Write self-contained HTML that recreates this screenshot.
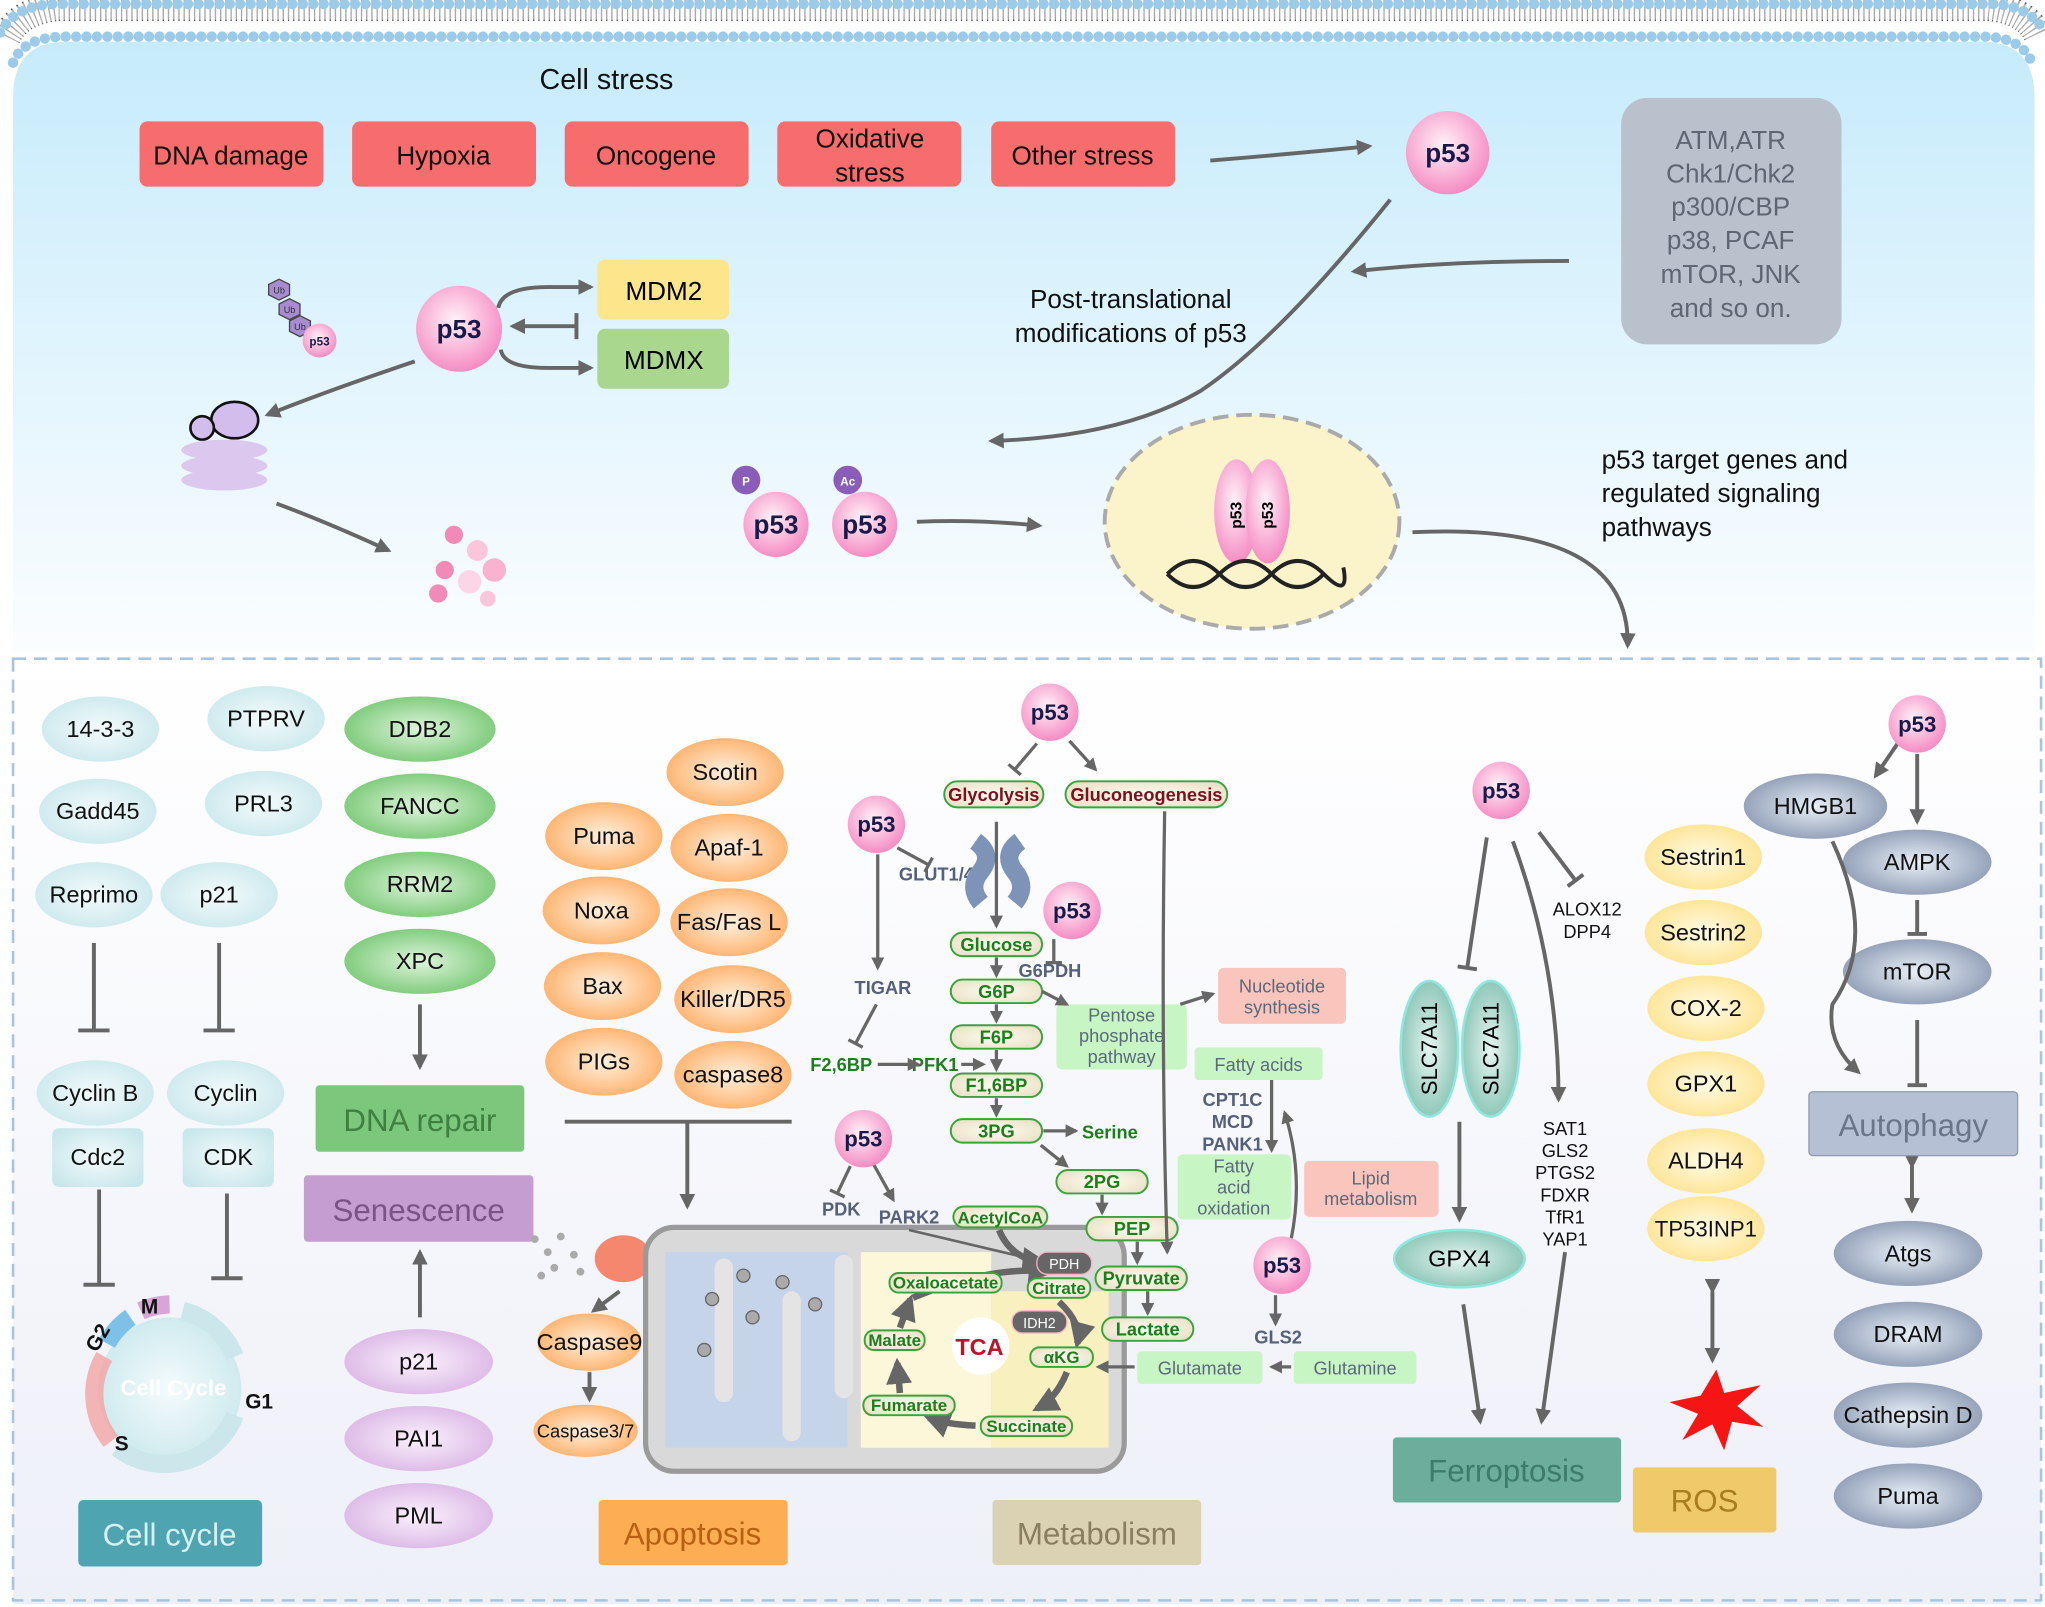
<!DOCTYPE html>
<html><head><meta charset="utf-8"><style>
html,body{margin:0;padding:0;background:#fff;}
svg{display:block;font-family:"Liberation Sans",sans-serif;}
</style></head><body>
<svg width="2045" height="1607" viewBox="0 0 1568 1232" xmlns="http://www.w3.org/2000/svg">
<defs>
<linearGradient id="cellbg" x1="0" y1="0" x2="0" y2="1"><stop offset="0" stop-color="#c6ebfb"/><stop offset="1" stop-color="#fbfdff"/></linearGradient>
<linearGradient id="lowbg" x1="0" y1="0" x2="0" y2="1"><stop offset="0" stop-color="#ffffff"/><stop offset="1" stop-color="#eef0f8"/></linearGradient>
<radialGradient id="pk" cx="0.45" cy="0.4" r="0.6"><stop offset="0" stop-color="#fff2f8"/><stop offset="1" stop-color="#f58cc4"/></radialGradient>
<radialGradient id="cy" cx="0.5" cy="0.5" r="0.6"><stop offset="0" stop-color="#f4fbfc"/><stop offset="1" stop-color="#c8e7ec"/></radialGradient>
<radialGradient id="gr" cx="0.5" cy="0.5" r="0.6"><stop offset="0" stop-color="#dff4dc"/><stop offset="1" stop-color="#6fc56c"/></radialGradient>
<radialGradient id="or" cx="0.5" cy="0.5" r="0.6"><stop offset="0" stop-color="#fff1e0"/><stop offset="1" stop-color="#fdaa5e"/></radialGradient>
<radialGradient id="pu" cx="0.5" cy="0.5" r="0.6"><stop offset="0" stop-color="#fbf1fd"/><stop offset="1" stop-color="#d8b2e3"/></radialGradient>
<radialGradient id="ye" cx="0.5" cy="0.5" r="0.6"><stop offset="0" stop-color="#fffbe6"/><stop offset="1" stop-color="#fde18a"/></radialGradient>
<radialGradient id="sl" cx="0.5" cy="0.5" r="0.6"><stop offset="0" stop-color="#e8f0f8"/><stop offset="1" stop-color="#8593ad"/></radialGradient>
<radialGradient id="tl" cx="0.5" cy="0.5" r="0.6"><stop offset="0" stop-color="#e6f5f1"/><stop offset="1" stop-color="#7fbfae"/></radialGradient>
<radialGradient id="pill" cx="0.5" cy="0.5" r="0.7"><stop offset="0" stop-color="#fffdf2"/><stop offset="1" stop-color="#e6dcc0"/></radialGradient>
<marker id="a" viewBox="0 0 10 10" refX="8" refY="5" markerWidth="4" markerHeight="4" orient="auto"><path d="M0,0L10,5L0,10z" fill="#666"/></marker>
<marker id="t" viewBox="0 0 10 10" refX="5" refY="5" markerWidth="5" markerHeight="5" orient="auto"><path d="M5,0V10" stroke="#666" stroke-width="2"/></marker>
</defs>

<!-- cell background -->
<path d="M10,75 Q10,32 50,32 H1520 Q1560,32 1560,75 V500 H10Z" fill="url(#cellbg)"/>
<rect x="10" y="500" width="1555" height="730" fill="url(#lowbg)"/>
<!-- membrane -->
<path d="M5,28 Q15,8 45,5 H1525 Q1555,8 1563,28" stroke="#555" stroke-width="22" stroke-dasharray="1 3" fill="none"/>
<path d="M5,28 Q15,8 45,5 H1525 Q1555,8 1563,28" stroke="#fff" stroke-width="20" stroke-dasharray="2 2" fill="none" opacity="0.5"/>
<path d="M0,25 Q12,3 45,3 H1525 Q1556,3 1568,25" stroke="#9ccbea" stroke-width="8" stroke-dasharray="0 8" stroke-linecap="round" fill="none"/>
<path d="M10,48 Q18,28 50,28 H1520 Q1550,28 1558,48" stroke="#9ccbea" stroke-width="8" stroke-dasharray="0 8" stroke-linecap="round" fill="none"/>

<rect x="10" y="505" width="1555" height="722" fill="none" stroke="#a9c4e0" stroke-width="2" stroke-dasharray="10 6"/>

<g font-size="20" text-anchor="middle" fill="#111">
<text x="465" y="68" font-size="22">Cell stress</text>
<g fill="#f76c6c">
<rect x="107" y="93" width="141" height="50" rx="6"/><rect x="270" y="93" width="141" height="50" rx="6"/><rect x="433" y="93" width="141" height="50" rx="6"/><rect x="596" y="93" width="141" height="50" rx="6"/><rect x="760" y="93" width="141" height="50" rx="6"/>
</g>
<text x="177" y="126">DNA damage</text><text x="340" y="126">Hypoxia</text><text x="503" y="126">Oncogene</text><text x="667" y="113">Oxidative</text><text x="667" y="139">stress</text><text x="830" y="126">Other stress</text>
</g>
<path d="M928,123 Q990,118 1050,112" stroke="#666" stroke-width="3" fill="none" marker-end="url(#a)"/>
<rect x="1243" y="75" width="169" height="189" rx="20" fill="#b9c1cd"/>
<g font-size="20" text-anchor="middle" fill="#5e6673">
<text x="1327" y="114">ATM,ATR</text><text x="1327" y="140">Chk1/Chk2</text><text x="1327" y="165">p300/CBP</text><text x="1327" y="191">p38, PCAF</text><text x="1327" y="217">mTOR, JNK</text><text x="1327" y="243">and so on.</text>
</g>
<path d="M1203,200 Q1110,200 1038,208" stroke="#666" stroke-width="3" fill="none" marker-end="url(#a)"/>
<path d="M1066,153 Q980,260 920,300 Q860,335 760,338" stroke="#666" stroke-width="3" fill="none" marker-end="url(#a)"/>
<text x="867" y="236" font-size="20" text-anchor="middle" fill="#111">Post-translational</text>
<text x="867" y="262" font-size="20" text-anchor="middle" fill="#111">modifications of p53</text>

<!-- MDM2 region -->
<rect x="458" y="199" width="101" height="46" rx="6" fill="#fde58c"/>
<rect x="458" y="252" width="101" height="46" rx="6" fill="#a9d78e"/>
<text x="509" y="230" font-size="20" text-anchor="middle">MDM2</text>
<text x="509" y="283" font-size="20" text-anchor="middle">MDMX</text>
<path d="M382,236 Q385,220 420,220 H453" stroke="#666" stroke-width="3" fill="none" marker-end="url(#a)"/>
<path d="M384,268 Q386,282 420,282 H453" stroke="#666" stroke-width="3" fill="none" marker-end="url(#a)"/>
<path d="M442,250 H393" stroke="#666" stroke-width="3" marker-end="url(#a)"/>
<path d="M442,240 V260" stroke="#666" stroke-width="3"/>
<path d="M318,277 Q250,300 205,318" stroke="#666" stroke-width="3" fill="none" marker-end="url(#a)"/>
<g fill="#a88bd0" stroke="#444" stroke-width="1"><polygon points="206,218 214,214 222,218 222,226 214,230 206,226"/><polygon points="214,233 222,229 230,233 230,241 222,245 214,241"/><polygon points="222,246 230,242 238,246 238,254 230,258 222,254"/></g>
<g font-size="7" fill="#333" text-anchor="middle"><text x="214" y="225">Ub</text><text x="222" y="240">Ub</text><text x="230" y="253">Ub</text></g>
<circle cx="245" cy="261" r="13" fill="url(#pk)"/><text x="245" y="265" font-size="9" font-weight="bold" text-anchor="middle" fill="#1a1a4a">p53</text>
<!-- proteasome -->
<g fill="#dcc8ef"><ellipse cx="172" cy="345" rx="33" ry="8"/><ellipse cx="172" cy="357" rx="33" ry="8"/><ellipse cx="172" cy="368" rx="33" ry="8"/></g>
<ellipse cx="180" cy="322" rx="18" ry="14" fill="#d3bdec" stroke="#111" stroke-width="2"/>
<circle cx="155" cy="328" r="9" fill="#d3bdec" stroke="#111" stroke-width="2"/>
<path d="M212,386 Q250,400 298,422" stroke="#666" stroke-width="3" fill="none" marker-end="url(#a)"/>
<g fill="#f28ab8"><circle cx="348" cy="410" r="7"/><circle cx="366" cy="422" r="8" fill="#fbc5dc"/><circle cx="341" cy="437" r="7"/><circle cx="379" cy="437" r="9" fill="#f9b2d0"/><circle cx="360" cy="446" r="9" fill="#fcd6e6"/><circle cx="336" cy="455" r="7"/><circle cx="374" cy="459" r="6" fill="#fbc5dc"/></g>

<!-- p53 top circles -->
<g font-weight="bold" text-anchor="middle" fill="#1a1a4a">
<circle cx="1110" cy="117" r="32" fill="url(#pk)"/><text x="1110" y="124" font-size="20">p53</text>
<circle cx="352" cy="252" r="33" fill="url(#pk)"/><text x="352" y="259" font-size="20">p53</text>
<circle cx="595" cy="402" r="25" fill="url(#pk)"/><text x="595" y="409" font-size="20">p53</text>
<circle cx="663" cy="402" r="25" fill="url(#pk)"/><text x="663" y="409" font-size="20">p53</text>
<circle cx="572" cy="368" r="11" fill="#8a5db8"/><text x="572" y="372" font-size="9" fill="#fff">P</text>
<circle cx="650" cy="368" r="11" fill="#8a5db8"/><text x="650" y="372" font-size="9" fill="#fff">Ac</text>
</g>
<path d="M703,400 Q750,398 797,403" stroke="#666" stroke-width="3" fill="none" marker-end="url(#a)"/>
<ellipse cx="960" cy="400" rx="113" ry="82" fill="#fbf4cb" stroke="#aaa" stroke-width="3" stroke-dasharray="12 6"/>
<ellipse cx="948" cy="392" rx="17" ry="40" fill="url(#pk)"/><ellipse cx="972" cy="392" rx="17" ry="40" fill="url(#pk)"/>
<text x="952" y="395" font-size="12" font-weight="bold" transform="rotate(-90 952 395)" text-anchor="middle">p53</text>
<text x="976" y="395" font-size="12" font-weight="bold" transform="rotate(-90 976 395)" text-anchor="middle">p53</text>
<path d="M895,440 Q915,420 935,440 T975,440 T1015,440 T1030,435 M895,440 Q915,460 935,440 T975,440 T1015,440" stroke="#222" stroke-width="3" fill="none"/>
<path d="M1083,408 Q1250,400 1248,495" stroke="#666" stroke-width="3" fill="none" marker-end="url(#a)"/>
<g font-size="20" fill="#111"><text x="1228" y="359">p53 target genes and</text><text x="1228" y="385">regulated signaling</text><text x="1228" y="411">pathways</text></g>

<!-- Cell cycle column -->
<g fill="url(#cy)"><ellipse cx="77" cy="559" rx="45" ry="25"/><ellipse cx="75" cy="622" rx="45" ry="25"/><ellipse cx="72" cy="686" rx="45" ry="25"/><ellipse cx="204" cy="551" rx="45" ry="25"/><ellipse cx="202" cy="616" rx="45" ry="25"/><ellipse cx="168" cy="686" rx="45" ry="25"/><ellipse cx="73" cy="838" rx="45" ry="25"/><ellipse cx="173" cy="838" rx="45" ry="25"/><rect x="40" y="865" width="70" height="45" rx="5"/><rect x="140" y="865" width="70" height="45" rx="5"/></g>
<g font-size="18" text-anchor="middle" fill="#111">
<text x="77" y="565">14-3-3</text><text x="75" y="628">Gadd45</text><text x="72" y="692">Reprimo</text><text x="204" y="557">PTPRV</text><text x="202" y="622">PRL3</text><text x="168" y="692">p21</text><text x="73" y="844">Cyclin B</text><text x="173" y="844">Cyclin</text><text x="75" y="893">Cdc2</text><text x="175" y="893">CDK</text>
</g>
<g stroke="#666" stroke-width="3"><path d="M72,723V790M60,790H84M168,723V790M156,790H180M76,912V985M64,985H88M174,915V980M162,980H186"/></g>
<circle cx="130" cy="1065" r="55" fill="url(#cy)"/>
<path d="M180,1085 A58,58 0 0 1 90,1110" stroke="#cbe7ec" stroke-width="14" fill="none"/>
<path d="M85,1105 A58,58 0 0 1 80,1040" stroke="#f3a4a4" stroke-width="14" fill="none" opacity="0.8"/>
<path d="M82,1030 A58,58 0 0 1 100,1010" stroke="#7dc0e8" stroke-width="14" fill="none"/>
<path d="M108,1005 A58,58 0 0 1 130,1000" stroke="#d9a5d8" stroke-width="14" fill="none"/>
<path d="M140,1005 A58,58 0 0 1 180,1040" stroke="#cbe7ec" stroke-width="14" fill="none"/>
<text x="133" y="1070" font-size="17" text-anchor="middle" fill="#fff" font-weight="bold">Cell Cycle</text>
<g font-size="16" font-weight="bold" fill="#111"><text x="108" y="1007">M</text><text x="188" y="1080">G1</text><text x="88" y="1112">S</text><text x="70" y="1040" transform="rotate(-60 70 1035)">G2</text></g>
<rect x="60" y="1150" width="141" height="51" rx="4" fill="#4ea4b0"/>
<text x="130" y="1185" font-size="24" text-anchor="middle" fill="#d7f0f3">Cell cycle</text>

<!-- DNA repair / Senescence -->
<g fill="url(#gr)"><ellipse cx="322" cy="559" rx="58" ry="25"/><ellipse cx="322" cy="618" rx="58" ry="25"/><ellipse cx="322" cy="678" rx="58" ry="25"/><ellipse cx="322" cy="737" rx="58" ry="25"/></g>
<g fill="url(#pu)"><ellipse cx="321" cy="1044" rx="57" ry="25"/><ellipse cx="321" cy="1103" rx="57" ry="25"/><ellipse cx="321" cy="1162" rx="57" ry="25"/></g>
<g font-size="18" text-anchor="middle" fill="#111"><text x="322" y="565">DDB2</text><text x="322" y="624">FANCC</text><text x="322" y="684">RRM2</text><text x="322" y="743">XPC</text><text x="321" y="1050">p21</text><text x="321" y="1109">PAI1</text><text x="321" y="1168">PML</text></g>
<path d="M322,770V818" stroke="#666" stroke-width="3" marker-end="url(#a)"/>
<path d="M322,1010V960" stroke="#666" stroke-width="3" marker-end="url(#a)"/>
<rect x="242" y="832" width="160" height="51" rx="3" fill="#7bc77b"/><text x="322" y="867" font-size="24" text-anchor="middle" fill="#3f7f3f">DNA repair</text>
<rect x="233" y="901" width="176" height="51" rx="3" fill="#c59dd0"/><text x="321" y="936" font-size="24" text-anchor="middle" fill="#7a5485">Senescence</text>

<!-- Apoptosis -->
<g fill="url(#or)"><ellipse cx="556" cy="592" rx="45" ry="26"/><ellipse cx="463" cy="641" rx="45" ry="26"/><ellipse cx="559" cy="650" rx="45" ry="26"/><ellipse cx="461" cy="698" rx="45" ry="26"/><ellipse cx="559" cy="707" rx="45" ry="26"/><ellipse cx="462" cy="756" rx="45" ry="26"/><ellipse cx="562" cy="766" rx="45" ry="26"/><ellipse cx="463" cy="814" rx="45" ry="26"/><ellipse cx="562" cy="824" rx="45" ry="26"/><ellipse cx="452" cy="1029" rx="40" ry="22"/><ellipse cx="449" cy="1097" rx="40" ry="20"/></g>
<g font-size="18" text-anchor="middle" fill="#111"><text x="556" y="598">Scotin</text><text x="463" y="647">Puma</text><text x="559" y="656">Apaf-1</text><text x="461" y="704">Noxa</text><text x="559" y="713">Fas/Fas L</text><text x="462" y="762">Bax</text><text x="562" y="772">Killer/DR5</text><text x="463" y="820">PIGs</text><text x="562" y="830">caspase8</text><text x="452" y="1035">Caspase9</text><text x="449" y="1102" font-size="14">Caspase3/7</text></g>
<path d="M433,860H607M527,860V925" stroke="#666" stroke-width="3" fill="none" marker-end="url(#a)"/>
<path d="M475,990L455,1005" stroke="#666" stroke-width="3" marker-end="url(#a)"/>
<path d="M452,1052V1073" stroke="#666" stroke-width="3" marker-end="url(#a)"/>
<g fill="#aaa"><circle cx="410" cy="950" r="3"/><circle cx="420" cy="960" r="3"/><circle cx="430" cy="948" r="3"/><circle cx="425" cy="972" r="3"/><circle cx="440" cy="962" r="3"/><circle cx="415" cy="978" r="3"/><circle cx="445" cy="975" r="3"/></g>
<ellipse cx="478" cy="965" rx="22" ry="18" fill="#f4876e"/>
<rect x="459" y="1150" width="145" height="50" rx="3" fill="#fdae52"/><text x="531" y="1184" font-size="24" text-anchor="middle" fill="#b85f12">Apoptosis</text>

<!-- Mitochondria -->
<rect x="495" y="941" width="367" height="187" rx="22" fill="#d9d9d9" stroke="#9a9a9a" stroke-width="4"/>
<path d="M510,960 H650 V1110 H510Z" fill="#c6d4ea"/>
<path d="M660,960 H760 V1110 H660Z" fill="#fbf7d8"/>
<path d="M760,990 H850 V1110 H760Z" fill="#f8f0bf"/>
<g fill="#e4e4e4"><rect x="548" y="965" width="14" height="110" rx="7"/><rect x="600" y="990" width="14" height="115" rx="7"/><rect x="640" y="962" width="14" height="110" rx="7"/></g>
<g fill="#aaa" stroke="#666"><circle cx="546" cy="996" r="5"/><circle cx="577" cy="1010" r="5"/><circle cx="600" cy="983" r="5"/><circle cx="625" cy="1000" r="5"/><circle cx="540" cy="1035" r="5"/><circle cx="570" cy="978" r="5"/></g>
<circle cx="752" cy="1032" r="22" fill="#fff"/>
<text x="751" y="1039" font-size="18" font-weight="bold" text-anchor="middle" fill="#c0102a">TCA</text>
<g stroke="#666" stroke-width="5" fill="none">
<path d="M700,995 Q760,970 805,975" marker-end="url(#a)"/>
<path d="M812,998 Q830,1015 826,1030" marker-end="url(#a)"/>
<path d="M818,1052 Q810,1072 795,1080" marker-end="url(#a)"/>
<path d="M748,1093 Q725,1092 712,1087" marker-end="url(#a)"/>
<path d="M690,1068 L688,1045" marker-end="url(#a)"/>
<path d="M690,1018 L698,996" marker-end="url(#a)"/>
<path d="M766,943 Q775,965 800,968" marker-end="url(#a)"/>
</g>
<path d="M697,943 L790,965" stroke="#666" stroke-width="2"/>
<rect x="795" y="960" width="42" height="17" rx="8" fill="#666" stroke="#f4b5c6"/><text x="816" y="973" font-size="11" fill="#fff" text-anchor="middle">PDH</text>
<rect x="776" y="1005" width="42" height="17" rx="8" fill="#666" stroke="#f4b5c6"/><text x="797" y="1018" font-size="11" fill="#fff" text-anchor="middle">IDH2</text>

<!-- Metabolism pills -->
<g fill="url(#pill)" stroke="#3aa33a" stroke-width="1.5">
<rect x="724" y="599" width="76" height="20" rx="10"/><rect x="817" y="599" width="124" height="20" rx="10"/>
<rect x="729" y="715" width="70" height="18" rx="9"/><rect x="729" y="751" width="70" height="18" rx="9"/><rect x="729" y="786" width="70" height="18" rx="9"/><rect x="729" y="823" width="70" height="18" rx="9"/><rect x="729" y="858" width="70" height="18" rx="9"/>
<rect x="810" y="897" width="70" height="18" rx="9"/><rect x="833" y="933" width="70" height="18" rx="9"/><rect x="840" y="971" width="70" height="18" rx="9"/><rect x="845" y="1010" width="70" height="18" rx="9"/>
<rect x="731" y="925" width="72" height="16" rx="8"/><rect x="682" y="976" width="86" height="15" rx="7"/><rect x="788" y="980" width="48" height="15" rx="7"/><rect x="790" y="1033" width="48" height="15" rx="7"/><rect x="752" y="1086" width="70" height="15" rx="7"/><rect x="662" y="1070" width="70" height="15" rx="7"/><rect x="663" y="1020" width="46" height="15" rx="7"/>
</g>
<g font-size="14" font-weight="bold" text-anchor="middle" fill="#1b7f1b">
<text x="762" y="614" fill="#7a1020">Glycolysis</text><text x="879" y="614" fill="#7a1020">Gluconeogenesis</text>
<text x="764" y="729">Glucose</text><text x="764" y="765">G6P</text><text x="764" y="800">F6P</text><text x="764" y="837">F1,6BP</text><text x="764" y="872">3PG</text>
<text x="845" y="911">2PG</text><text x="868" y="947">PEP</text><text x="875" y="985">Pyruvate</text><text x="880" y="1024">Lactate</text>
<text x="851" y="873">Serine</text><text x="645" y="821">F2,6BP</text><text x="717" y="821">PFK1</text>
<text x="767" y="938" font-size="13">AcetylCoA</text><text x="725" y="988" font-size="13">Oxaloacetate</text><text x="812" y="992" font-size="13">Citrate</text><text x="814" y="1045" font-size="13">αKG</text><text x="787" y="1098" font-size="13">Succinate</text><text x="697" y="1082" font-size="13">Fumarate</text><text x="686" y="1032" font-size="13">Malate</text>
</g>
<g font-size="14" font-weight="bold" text-anchor="middle" fill="#56607a">
<text x="718" y="675">GLUT1/4</text><text x="805" y="749">G6PDH</text><text x="677" y="762">TIGAR</text><text x="645" y="932">PDK</text><text x="697" y="938">PARK2</text><text x="945" y="848">CPT1C</text><text x="945" y="865">MCD</text><text x="945" y="882">PANK1</text><text x="980" y="1030">GLS2</text>
</g>
<path d="M748,645 Q762,655 752,668 Q742,680 752,692 M782,645 Q768,655 778,668 Q788,680 778,692" stroke="#7d93b8" stroke-width="14" fill="none"/>
<g fill="#c7f6c4"><rect x="810" y="770" width="100" height="50" rx="4"/><rect x="916" y="803" width="98" height="25" rx="3"/><rect x="903" y="885" width="87" height="50" rx="4"/><rect x="872" y="1036" width="96" height="25" rx="3"/><rect x="992" y="1036" width="94" height="25" rx="3"/></g>
<g fill="#f9c5bd"><rect x="934" y="742" width="98" height="43" rx="4"/><rect x="1000" y="890" width="103" height="43" rx="4"/></g>
<g font-size="14" text-anchor="middle" fill="#5b6a7a">
<text x="860" y="783">Pentose</text><text x="860" y="799">phosphate</text><text x="860" y="815">pathway</text>
<text x="983" y="761">Nucleotide</text><text x="983" y="777">synthesis</text>
<text x="965" y="821">Fatty acids</text>
<text x="946" y="899">Fatty</text><text x="946" y="915">acid</text><text x="946" y="931">oxidation</text>
<text x="1051" y="908">Lipid</text><text x="1051" y="924">metabolism</text>
<text x="920" y="1054">Glutamate</text><text x="1039" y="1054">Glutamine</text>
</g>
<g stroke="#666" stroke-width="2.5" fill="none">
<path d="M795,570 L778,590" marker-end="url(#t)"/><path d="M820,568 L840,590" marker-end="url(#a)"/>
<path d="M688,650 L712,663" marker-end="url(#t)"/><path d="M673,655 V742" marker-end="url(#a)"/>
<path d="M672,770 L656,800" marker-end="url(#t)"/><path d="M673,816 H704" marker-end="url(#a)"/><path d="M737,816 H754" marker-end="url(#a)"/>
<path d="M764,630 V710" marker-end="url(#a)"/>
<path d="M764,734 V748" marker-end="url(#a)"/><path d="M764,770 V783" marker-end="url(#a)"/><path d="M764,805 V820" marker-end="url(#a)"/><path d="M764,842 V855" marker-end="url(#a)"/>
<path d="M808,720 V738" marker-end="url(#t)"/>
<path d="M799,760 L818,770" marker-end="url(#a)"/><path d="M905,770 L930,762" marker-end="url(#a)"/>
<path d="M800,867 H825" marker-end="url(#a)"/><path d="M798,878 L818,894" marker-end="url(#a)"/><path d="M845,916 V930" marker-end="url(#a)"/>
<path d="M893,622 Q890,800 895,960" marker-end="url(#a)"/><path d="M872,952 V968" marker-end="url(#a)"/><path d="M880,990 V1007" marker-end="url(#a)"/>
<path d="M652,894 L642,915" marker-end="url(#t)"/><path d="M670,893 L685,920" marker-end="url(#a)"/>
<path d="M975,828 V882" marker-end="url(#a)"/>
<path d="M990,950 Q1000,900 985,853" marker-end="url(#a)"/>
<path d="M978,993 V1015" marker-end="url(#a)"/><path d="M990,1048 H975" marker-end="url(#a)"/><path d="M870,1048 H842" marker-end="url(#a)"/>
</g>
<rect x="761" y="1150" width="160" height="50" rx="3" fill="#dbd1b3"/><text x="841" y="1184" font-size="24" text-anchor="middle" fill="#8a7e60">Metabolism</text>

<!-- Ferroptosis -->
<g fill="url(#tl)" stroke="#8fe8e0" stroke-width="2"><ellipse cx="1096" cy="804" rx="22" ry="52"/><ellipse cx="1143" cy="804" rx="22" ry="52"/><ellipse cx="1119" cy="965" rx="50" ry="22"/></g>
<text x="1102" y="804" font-size="17" text-anchor="middle" transform="rotate(-90 1102 804)">SLC7A11</text>
<text x="1149" y="804" font-size="17" text-anchor="middle" transform="rotate(-90 1149 804)">SLC7A11</text>
<text x="1119" y="971" font-size="18" text-anchor="middle">GPX4</text>
<g stroke="#666" stroke-width="3" fill="none">
<path d="M1140,642 L1125,742" marker-end="url(#t)"/><path d="M1180,638 L1208,675" marker-end="url(#t)"/>
<path d="M1160,645 Q1195,740 1195,843" marker-end="url(#a)"/>
<path d="M1119,860 V935" marker-end="url(#a)"/><path d="M1122,1000 L1135,1090" marker-end="url(#a)"/><path d="M1200,960 L1182,1090" marker-end="url(#a)"/>
</g>
<g font-size="14" text-anchor="middle" fill="#111"><text x="1217" y="702">ALOX12</text><text x="1217" y="719">DPP4</text>
<text x="1200" y="870">SAT1</text><text x="1200" y="887">GLS2</text><text x="1200" y="904">PTGS2</text><text x="1200" y="921">FDXR</text><text x="1200" y="938">TfR1</text><text x="1200" y="955">YAP1</text></g>
<rect x="1068" y="1102" width="175" height="50" rx="3" fill="#6aae9b"/><text x="1155" y="1136" font-size="24" text-anchor="middle" fill="#3d7c6a">Ferroptosis</text>

<!-- ROS -->
<g fill="url(#ye)"><ellipse cx="1306" cy="657" rx="45" ry="25"/><ellipse cx="1306" cy="715" rx="45" ry="25"/><ellipse cx="1308" cy="773" rx="45" ry="25"/><ellipse cx="1308" cy="831" rx="45" ry="25"/><ellipse cx="1308" cy="890" rx="45" ry="25"/><ellipse cx="1308" cy="942" rx="45" ry="25"/></g>
<g font-size="18" text-anchor="middle" fill="#111"><text x="1306" y="663">Sestrin1</text><text x="1306" y="721">Sestrin2</text><text x="1308" y="779">COX-2</text><text x="1308" y="837">GPX1</text><text x="1308" y="896">ALDH4</text><text x="1308" y="948" font-size="17">TP53INP1</text></g>
<path d="M1313,990 V1043" stroke="#666" stroke-width="3" marker-end="url(#a)" marker-start="url(#a)"/>
<path d="M1316,1050 L1322,1068 L1350,1062 L1332,1078 L1352,1094 L1328,1090 L1322,1112 L1313,1092 L1290,1104 L1302,1084 L1280,1075 L1304,1070 Z" fill="#f51515"/>
<rect x="1252" y="1125" width="110" height="50" rx="3" fill="#f0c96a"/><text x="1307" y="1159" font-size="24" text-anchor="middle" fill="#a87d20">ROS</text>

<!-- Autophagy -->
<g fill="url(#sl)"><ellipse cx="1392" cy="618" rx="55" ry="25"/><ellipse cx="1470" cy="661" rx="57" ry="25"/><ellipse cx="1470" cy="745" rx="57" ry="25"/><ellipse cx="1463" cy="961" rx="57" ry="25"/><ellipse cx="1463" cy="1023" rx="57" ry="25"/><ellipse cx="1463" cy="1085" rx="57" ry="25"/><ellipse cx="1463" cy="1147" rx="57" ry="25"/></g>
<g font-size="18" text-anchor="middle" fill="#111"><text x="1392" y="624">HMGB1</text><text x="1470" y="667">AMPK</text><text x="1470" y="751">mTOR</text><text x="1463" y="967">Atgs</text><text x="1463" y="1029">DRAM</text><text x="1463" y="1091">Cathepsin D</text><text x="1463" y="1153">Puma</text></g>
<g stroke="#666" stroke-width="3" fill="none">
<path d="M1455,570 L1438,595" marker-end="url(#a)"/><path d="M1470,578 V630" marker-end="url(#a)"/>
<path d="M1470,690 V716" marker-end="url(#t)"/><path d="M1470,782 V832" marker-end="url(#t)"/>
<path d="M1405,645 Q1440,720 1405,770 Q1400,800 1425,822" marker-end="url(#a)"/>
<path d="M1466,894 V928" marker-end="url(#a)" marker-start="url(#a)"/>
</g>
<rect x="1387" y="837" width="160" height="49" rx="3" fill="#b6c0d4" stroke="#8f9ab0"/><text x="1467" y="871" font-size="24" text-anchor="middle" fill="#6b7589">Autophagy</text>

<!-- bottom p53 circles -->
<g font-weight="bold" text-anchor="middle" fill="#1a1a4a" font-size="17">
<circle cx="805" cy="546" r="22" fill="url(#pk)"/><text x="805" y="552">p53</text>
<circle cx="672" cy="632" r="22" fill="url(#pk)"/><text x="672" y="638">p53</text>
<circle cx="822" cy="698" r="22" fill="url(#pk)"/><text x="822" y="704">p53</text>
<circle cx="662" cy="873" r="22" fill="url(#pk)"/><text x="662" y="879">p53</text>
<circle cx="983" cy="970" r="22" fill="url(#pk)"/><text x="983" y="976">p53</text>
<circle cx="1151" cy="606" r="22" fill="url(#pk)"/><text x="1151" y="612">p53</text>
<circle cx="1470" cy="555" r="22" fill="url(#pk)"/><text x="1470" y="561">p53</text>
</g>
</svg>
</body></html>
